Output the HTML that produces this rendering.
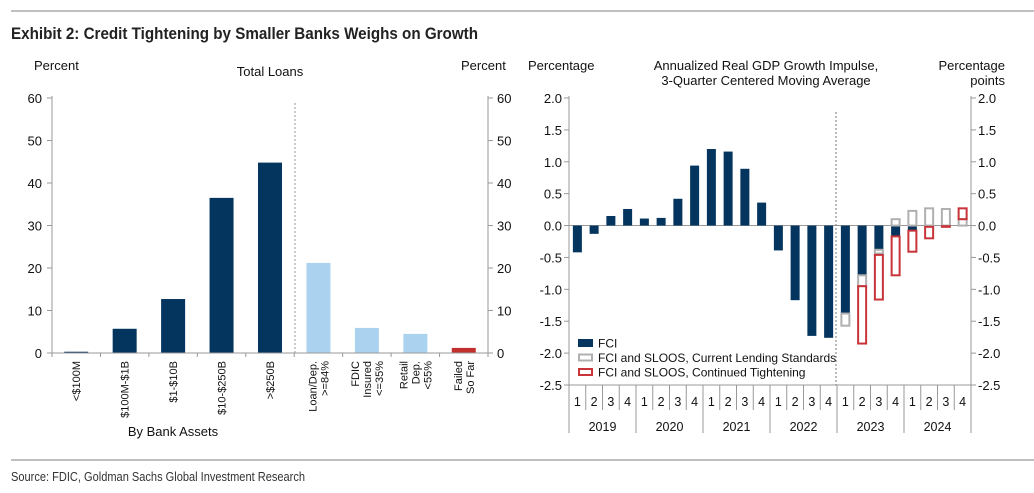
<!DOCTYPE html>
<html><head><meta charset="utf-8"><style>
body{margin:0;background:#fff}
svg{display:block;font-family:"Liberation Sans",Arial,sans-serif}
</style></head><body>
<svg id="chart" width="1034" height="493" viewBox="0 0 1034 493" xmlns="http://www.w3.org/2000/svg">
<line x1="11" y1="11" x2="1034" y2="11" stroke="#aaa" stroke-width="1.5"/>
<text x="11" y="39" font-size="17" font-weight="bold" fill="#222" textLength="467" lengthAdjust="spacingAndGlyphs">Exhibit 2: Credit Tightening by Smaller Banks Weighs on Growth</text>
<line x1="11" y1="460" x2="1034" y2="460" stroke="#aaa" stroke-width="1.5"/>
<text x="11" y="481" font-size="12.5" fill="#333" textLength="294" lengthAdjust="spacingAndGlyphs">Source: FDIC, Goldman Sachs Global Investment Research</text>

<g id="left" font-size="13" fill="#111">
<text x="34" y="70">Percent</text>
<text x="461" y="70">Percent</text>
<text x="270" y="76" text-anchor="middle">Total Loans</text>
<text x="173" y="436" text-anchor="middle">By Bank Assets</text>
</g>
<g id="right" font-size="13" fill="#111">
<text x="528" y="70">Percentage</text>
<text x="766" y="70" text-anchor="middle">Annualized Real GDP Growth Impulse,</text>
<text x="766" y="85" text-anchor="middle">3-Quarter Centered Moving Average</text>
<text x="1005" y="70" text-anchor="end">Percentage</text>
<text x="1005" y="85" text-anchor="end">points</text>
</g>
</svg>
<script>
// Left chart data
const loanCats = [["<$100M"],["$100M-$1B"],["$1-$10B"],["$10-$250B"],[">$250B"],["Loan/Dep.",">=84%"],["FDIC","Insured","<=35%"],["Retail","Dep.","<55%"],["Failed","So Far"]];
const loanVals = [0.3, 5.7, 12.7, 36.5, 44.8, 21.2, 5.9, 4.5, 1.2];
const loanGroup = ["asset","asset","asset","asset","asset","stat","stat","stat","failed"];
const loanTicks = [0,10,20,30,40,50,60];
// Right chart data
const years = ["2019","2020","2021","2022","2023","2024"];
const quarters = ["1","2","3","4"];
const fci = [-0.42,-0.13,0.15,0.26, 0.11,0.12,0.42,0.94, 1.20,1.16,0.89,0.36, -0.39,-1.17,-1.73,-1.76, -1.38,-0.78,-0.38,-0.17, -0.08,0,-0.01,0];
const slosFrom = [null,null,null,null, null,null,null,null, null,null,null,null, null,null,null,null, -1.38,-0.78,-0.38,0, 0,0,0,0];
const slosTo   = [null,null,null,null, null,null,null,null, null,null,null,null, null,null,null,null, -1.57,-0.95,-0.44,0.10, 0.23,0.27,0.26,0.10];
const tightFrom = [null,null,null,null, null,null,null,null, null,null,null,null, null,null,null,null, null,-0.95,-0.46,-0.17, -0.08,-0.02,-0.01,0.10];
const tightTo   = [null,null,null,null, null,null,null,null, null,null,null,null, null,null,null,null, null,-1.85,-1.16,-0.78, -0.41,-0.20,-0.02,0.27];
const gdpTicks = [2.0,1.5,1.0,0.5,0.0,-0.5,-1.0,-1.5,-2.0,-2.5];

const NS="http://www.w3.org/2000/svg";
function mk(parent,tag,attrs){const e=document.createElementNS(NS,tag);for(const k in attrs)e.setAttribute(k,attrs[k]);parent.appendChild(e);return e;}
const L=document.getElementById('left'), R=document.getElementById('right');

// ----- Left chart
const lx0=52, lx1=488, ly0=353, ly1=98, lmax=60;
const ly=v=>ly0-(v/lmax)*(ly0-ly1);
const lw=(lx1-lx0)/loanVals.length;
const lxc=i=>lx0+lw*(i+0.5);
let a=mk(L,'line',{x1:lx0,y1:ly1-2,x2:lx0,y2:ly0+4,stroke:'#999'});


a=mk(L,'line',{x1:lx1,y1:ly1-2,x2:lx1,y2:ly0+4,stroke:'#999'});


loanTicks.forEach(t=>{
  const y=ly(t);
  mk(L,'line',{x1:lx0-5,y1:y,x2:lx0,y2:y,stroke:'#999'});
  mk(L,'line',{x1:lx1,y1:y,x2:lx1+5,y2:y,stroke:'#999'});
  let e=mk(L,'text',{x:42,y:y+5,'text-anchor':'end'});e.textContent=t;
  
  
  e=mk(L,'text',{x:497,y:y+5});e.textContent=t;
  
  
});
loanVals.forEach((v,i)=>{
  const col=loanGroup[i]==='asset'?'#04355f':loanGroup[i]==='stat'?'#abd3ef':'#c2302e';
  const r=mk(L,'rect',{x:lxc(i)-12,y:ly(v),width:24,height:ly0-ly(v),fill:col});
  
  
  mk(L,'line',{x1:lx0+lw*i,y1:ly0,x2:lx0+lw*i,y2:ly0+4,stroke:'#999'});
  const lines=loanCats[i];
  lines.forEach((s,j)=>{
    const xx=lxc(i)+4+(j-(lines.length-1)/2)*12;
    const t=mk(L,'text',{x:0,y:0,'font-size':'11','text-anchor':'end',transform:`translate(${xx},${ly0+8}) rotate(-90)`});
    t.textContent=s;
    
    
  });
});
a=mk(L,'line',{x1:lx0,y1:ly0,x2:lx1,y2:ly0,stroke:'#999'});


a=mk(L,'line',{x1:295,y1:103,x2:295,y2:ly0,stroke:'#999','stroke-dasharray':'2,2'});



// ----- Right chart
const rx0=569, rx1=971, ry1=98, ry0=385, vmax=2.0, vmin=-2.5;
const ry=v=>ry1+(vmax-v)/(vmax-vmin)*(ry0-ry1);
const n=fci.length, qw=(rx1-rx0)/n;
const rxc=i=>rx0+qw*(i+0.5);
a=mk(R,'line',{x1:rx0,y1:ry1-2,x2:rx0,y2:433,stroke:'#999'});


a=mk(R,'line',{x1:rx1,y1:ry1-2,x2:rx1,y2:433,stroke:'#999'});


gdpTicks.forEach(t=>{
  const y=ry(t);
  mk(R,'line',{x1:rx0-5,y1:y,x2:rx0,y2:y,stroke:'#999'});
  mk(R,'line',{x1:rx1,y1:y,x2:rx1+5,y2:y,stroke:'#999'});
  let e=mk(R,'text',{x:562,y:y+5,'text-anchor':'end'});e.textContent=t.toFixed(1);
  
  
  e=mk(R,'text',{x:978,y:y+5});e.textContent=t.toFixed(1);
  
  
});
a=mk(R,'line',{x1:rx0,y1:ry(0),x2:rx1,y2:ry(0),stroke:'#999'});


a=mk(R,'line',{x1:rx0,y1:ry0,x2:rx1,y2:ry0,stroke:'#999'});


fci.forEach((v,i)=>{
  const y0=ry(0),y=ry(v);
  const r=mk(R,'rect',{x:rxc(i)-4.5,y:Math.min(y0,y),width:9,height:Math.abs(y-y0),fill:'#04355f'});
  
  
});
function box(from,to,col,name){
  from.forEach((f,i)=>{
    if(f===null)return;
    const a1=ry(f),a2=ry(to[i]);
    const r=mk(R,'rect',{x:rxc(i)-4,y:Math.min(a1,a2),width:8,height:Math.abs(a2-a1),fill:'none',stroke:col,'stroke-width':2});
    
    
  });
}
box(slosFrom,slosTo,'#b0b0b0','sloos-current-bar');
box(tightFrom,tightTo,'#c8343a','sloos-tightening-bar');
for(let i=0;i<n;i++){
  if(i>0){const yr=i%4===0;mk(R,'line',{x1:rx0+qw*i,y1:ry0,x2:rx0+qw*i,y2:yr?433:410,stroke:'#999'});}
  const t=mk(R,'text',{x:rxc(i),y:406,'text-anchor':'middle','font-size':'12.5'});
  t.textContent=quarters[i%4];
  
  
}
years.forEach((yv,k)=>{
  const t=mk(R,'text',{x:rx0+qw*(4*k+2),y:431,'text-anchor':'middle','font-size':'12.5'});
  t.textContent=yv;
  
  
});
a=mk(R,'line',{x1:836,y1:112,x2:836,y2:ry0,stroke:'#777','stroke-dasharray':'2,2'});


// legend
const leg=[["FCI","#04355f",true],["FCI and SLOOS, Current Lending Standards","#b0b0b0",false],["FCI and SLOOS, Continued Tightening","#c8343a",false]];
leg.forEach((d,k)=>{
  const y=343+k*14.5;
  const g=mk(R,'g',{});
  
  
  if(d[2])mk(g,'rect',{x:578,y:y-4,width:15,height:8,fill:d[1]});
  else mk(g,'rect',{x:579,y:y-3,width:13,height:6,fill:'none',stroke:d[1],'stroke-width':2});
  const t=mk(g,'text',{x:598,y:y+4.5,'font-size':'12'});t.textContent=d[0];
});
</script>
</body></html>
